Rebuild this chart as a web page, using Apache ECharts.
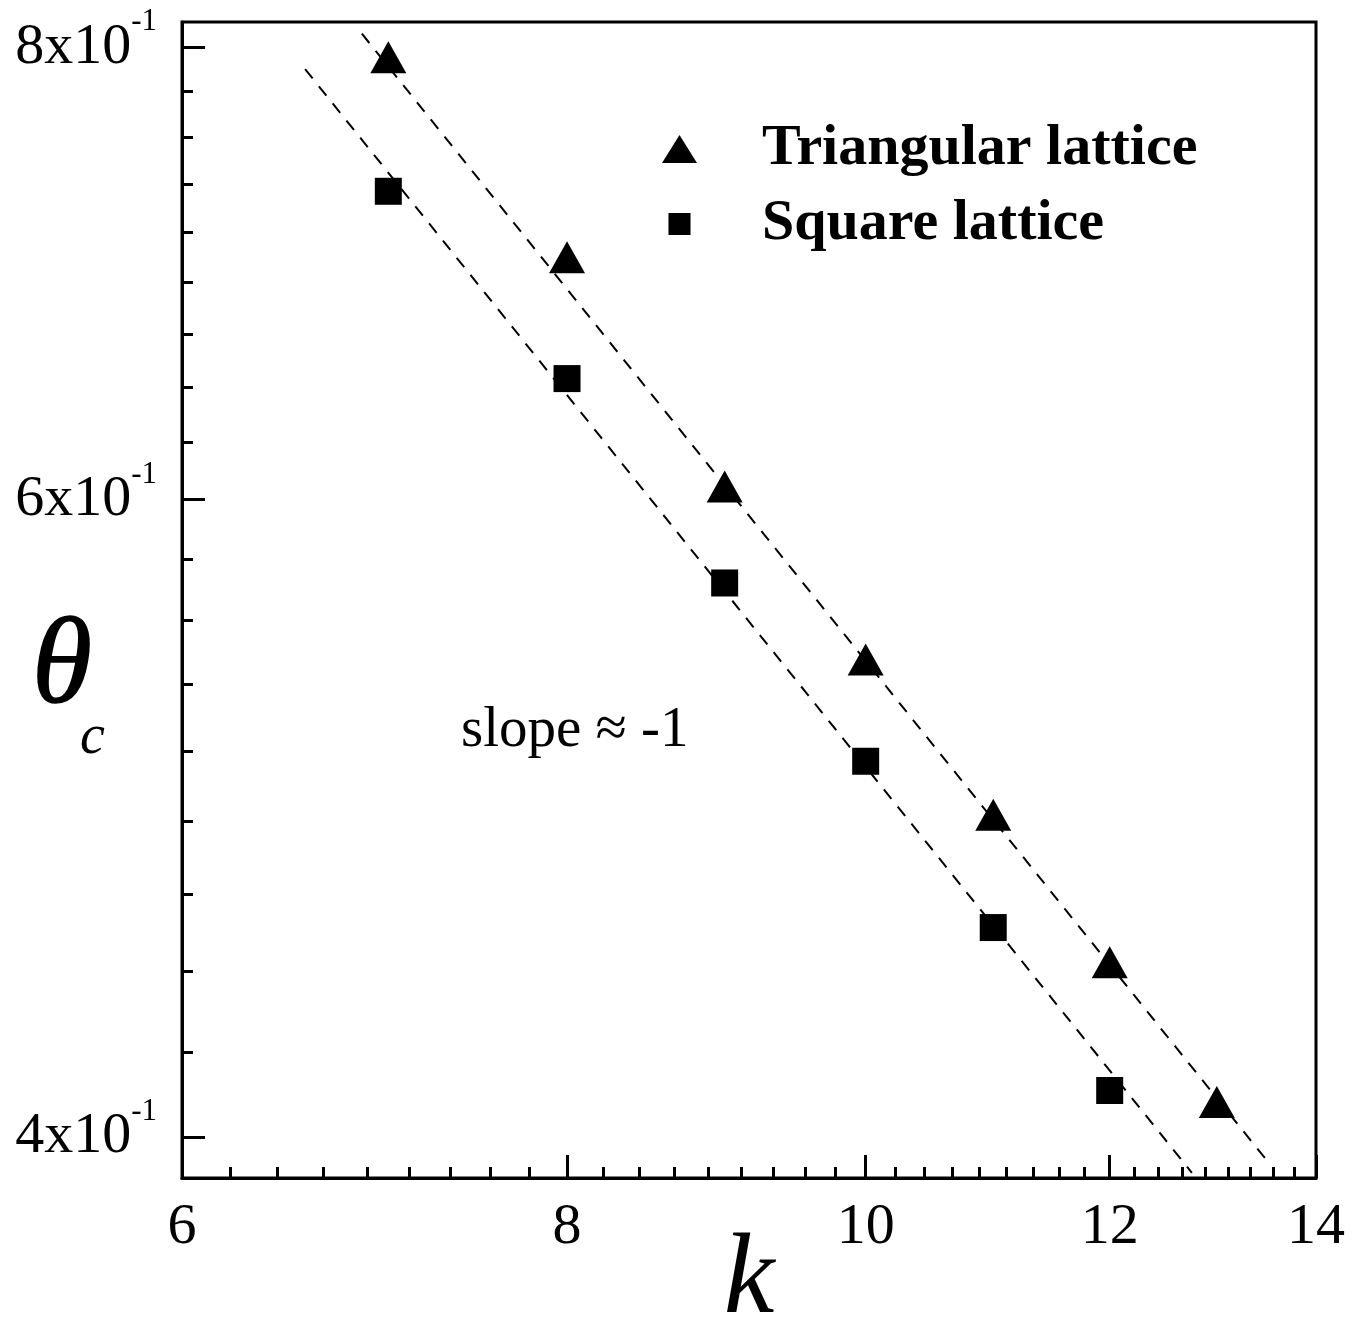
<!DOCTYPE html>
<html><head><meta charset="utf-8">
<script src="https://cdn.jsdelivr.net/npm/echarts@6/dist/echarts.min.js"></script>
<style>html,body{margin:0;padding:0;background:#fff}#c{width:1353px;height:1318px}</style>
</head><body><div id="c"></div>
<script>
// ---- data (log-log plot) ----
const triK = [7, 8, 9, 10, 11, 12, 13];
const triTheta = [0.795, 0.700, 0.605, 0.542, 0.491, 0.447, 0.409];
const sqK = [7, 8, 9, 10, 11, 12];
const sqTheta = [0.730, 0.648, 0.569, 0.508, 0.457, 0.412];
// dashed guide lines (slope ≈ -1), end points
const fitTriK = [6.863, 13.53];
const fitTriTheta = [0.807, 0.393];
const fitSqK = [6.578, 12.76];
const fitSqTheta = [0.789, 0.391];
// axes
const xRange = [6, 14];
const yRange = [0.3897, 0.813];
const xTicks = [6, 8, 10, 12, 14];
const xTickLabels = ['6', '8', '10', '12', '14'];
const yTicks = [0.4, 0.6, 0.8];
const yTickMantissa = ['4', '6', '8'];
const yTickExponent = '-1';
const seriesNames = ['Triangular lattice', 'Square lattice'];

const L = Math.log10;
const FONT = 'Liberation Serif';

// minor ticks: 8 equal linear subdivisions between majors (Tecplot style)
function minorTicks(majors, lo, hi) {
  const out = [];
  const step = (majors[1] - majors[0]) / 9;
  for (let v = majors[0] - 9 * step; v <= majors[majors.length - 1] + 9 * step + 1e-9; v += step) {
    const isMajor = majors.some(m => Math.abs(m - v) < 1e-9);
    if (!isMajor && v >= lo && v <= hi) out.push(L(v));
  }
  return out;
}
const xMinor = minorTicks(xTicks, xRange[0], xRange[1]);
const yMinor = minorTicks(yTicks, yRange[0], yRange[1]);

function idxOf(arr, v) {
  for (let i = 0; i < arr.length; i++) if (Math.abs(L(arr[i]) - v) < 1e-6) return i;
  return -1;
}

const gridRect = { left: 182, right: 37, top: 22, bottom: 140 };

const chart = echarts.init(document.getElementById('c'), null, { renderer: 'canvas' });
chart.setOption({
  animation: false,
  backgroundColor: '#fff',
  grid: [
    Object.assign({ show: true, borderColor: '#000', borderWidth: 3, backgroundColor: 'transparent', containLabel: false, outerBoundsMode: 'none' }, gridRect),
    Object.assign({ show: false, containLabel: false, outerBoundsMode: 'none' }, gridRect)
  ],
  xAxis: [
    {
      type: 'value', gridIndex: 0, min: L(xRange[0]), max: L(xRange[1]),
      axisLine: { show: true, lineStyle: { color: '#000', width: 3 } },
      splitLine: { show: false },
      axisTick: { show: true, inside: true, length: 23, lineStyle: { color: '#000', width: 3 }, customValues: xTicks.map(L) },
      axisLabel: {
        show: true, customValues: xTicks.map(L), margin: 21,
        color: '#000', fontFamily: FONT, fontSize: 58,
        formatter: v => { const i = idxOf(xTicks, v); return i >= 0 ? xTickLabels[i] : ''; }
      },
      name: 'k', nameLocation: 'middle', nameGap: 47, nameMoveOverlap: false,
      nameTextStyle: { color: '#000', fontFamily: FONT, fontStyle: 'italic', fontSize: 114, lineHeight: 114 }
    },
    {
      type: 'value', gridIndex: 1, min: L(xRange[0]), max: L(xRange[1]),
      axisLine: { show: false }, splitLine: { show: false }, axisLabel: { show: false },
      axisTick: { show: true, inside: true, length: 11, lineStyle: { color: '#000', width: 3 }, customValues: xMinor }
    }
  ],
  yAxis: [
    {
      type: 'value', gridIndex: 0, min: L(yRange[0]), max: L(yRange[1]),
      axisLine: { show: true, lineStyle: { color: '#000', width: 3 } },
      splitLine: { show: false },
      axisTick: { show: true, inside: true, length: 23, lineStyle: { color: '#000', width: 3 }, customValues: yTicks.map(L) },
      axisLabel: {
        show: true, customValues: yTicks.map(L), margin: 25,
        formatter: v => { const i = idxOf(yTicks, v); return i >= 0 ? '{m|' + yTickMantissa[i] + 'x10}{e|' + yTickExponent + '}' : ''; },
        rich: {
          m: { color: '#000', fontFamily: FONT, fontSize: 58, lineHeight: 58 },
          e: { color: '#000', fontFamily: FONT, fontSize: 31, lineHeight: 31, padding: [0, 0, 50, 0] }
        }
      }
    },
    {
      type: 'value', gridIndex: 1, min: L(yRange[0]), max: L(yRange[1]),
      axisLine: { show: false }, splitLine: { show: false }, axisLabel: { show: false },
      axisTick: { show: true, inside: true, length: 11, lineStyle: { color: '#000', width: 3 }, customValues: yMinor }
    }
  ],
  legend: {
    orient: 'vertical', left: 662, top: 120, padding: 0,
    itemWidth: 35, itemHeight: 28, itemGap: 17,
    textStyle: { color: '#000', fontFamily: FONT, fontWeight: 'bold', fontSize: 58, padding: [0, 0, 0, 60] },
    data: [
      { name: seriesNames[0], icon: 'triangle' },
      { name: seriesNames[1], icon: 'path://M-1.35,-1.35L-1.35,-1.35M11.35,11.35L11.35,11.35M0,0L10,0L10,10L0,10Z' }
    ]
  },
  series: [
    {
      type: 'line', xAxisIndex: 0, yAxisIndex: 0, silent: true, symbol: 'none',
      lineStyle: { color: '#000', width: 2, type: [12, 10] },
      data: fitTriK.map((k, i) => [L(k), L(fitTriTheta[i])])
    },
    {
      type: 'line', xAxisIndex: 0, yAxisIndex: 0, silent: true, symbol: 'none',
      lineStyle: { color: '#000', width: 2, type: [12, 10] },
      data: fitSqK.map((k, i) => [L(k), L(fitSqTheta[i])])
    },
    {
      name: seriesNames[0], type: 'scatter', xAxisIndex: 0, yAxisIndex: 0,
      symbol: 'triangle', symbolSize: [36, 32], itemStyle: { color: '#000', opacity: 1 },
      data: triK.map((k, i) => [L(k), L(triTheta[i])])
    },
    {
      name: seriesNames[1], type: 'scatter', xAxisIndex: 0, yAxisIndex: 0,
      symbol: 'rect', symbolSize: 27, itemStyle: { color: '#000', opacity: 1 },
      data: sqK.map((k, i) => [L(k), L(sqTheta[i])])
    }
  ],
  graphic: [
    { type: 'text', x: 32, y: 670, style: { text: 'θ', font: 'italic 122px "Liberation Serif"', fill: '#000', align: 'left', verticalAlign: 'middle', stroke: '#000', lineWidth: 1.5 } },
    { type: 'text', x: 80, y: 738, style: { text: 'c', font: 'italic 56px "Liberation Serif"', fill: '#000', align: 'left', verticalAlign: 'middle' } },
    { type: 'text', x: 461, y: 731, style: { text: 'slope ≈ -1', font: '57px "Liberation Serif"', fill: '#000', align: 'left', verticalAlign: 'middle' } }
  ]
});
</script>
</body></html>
